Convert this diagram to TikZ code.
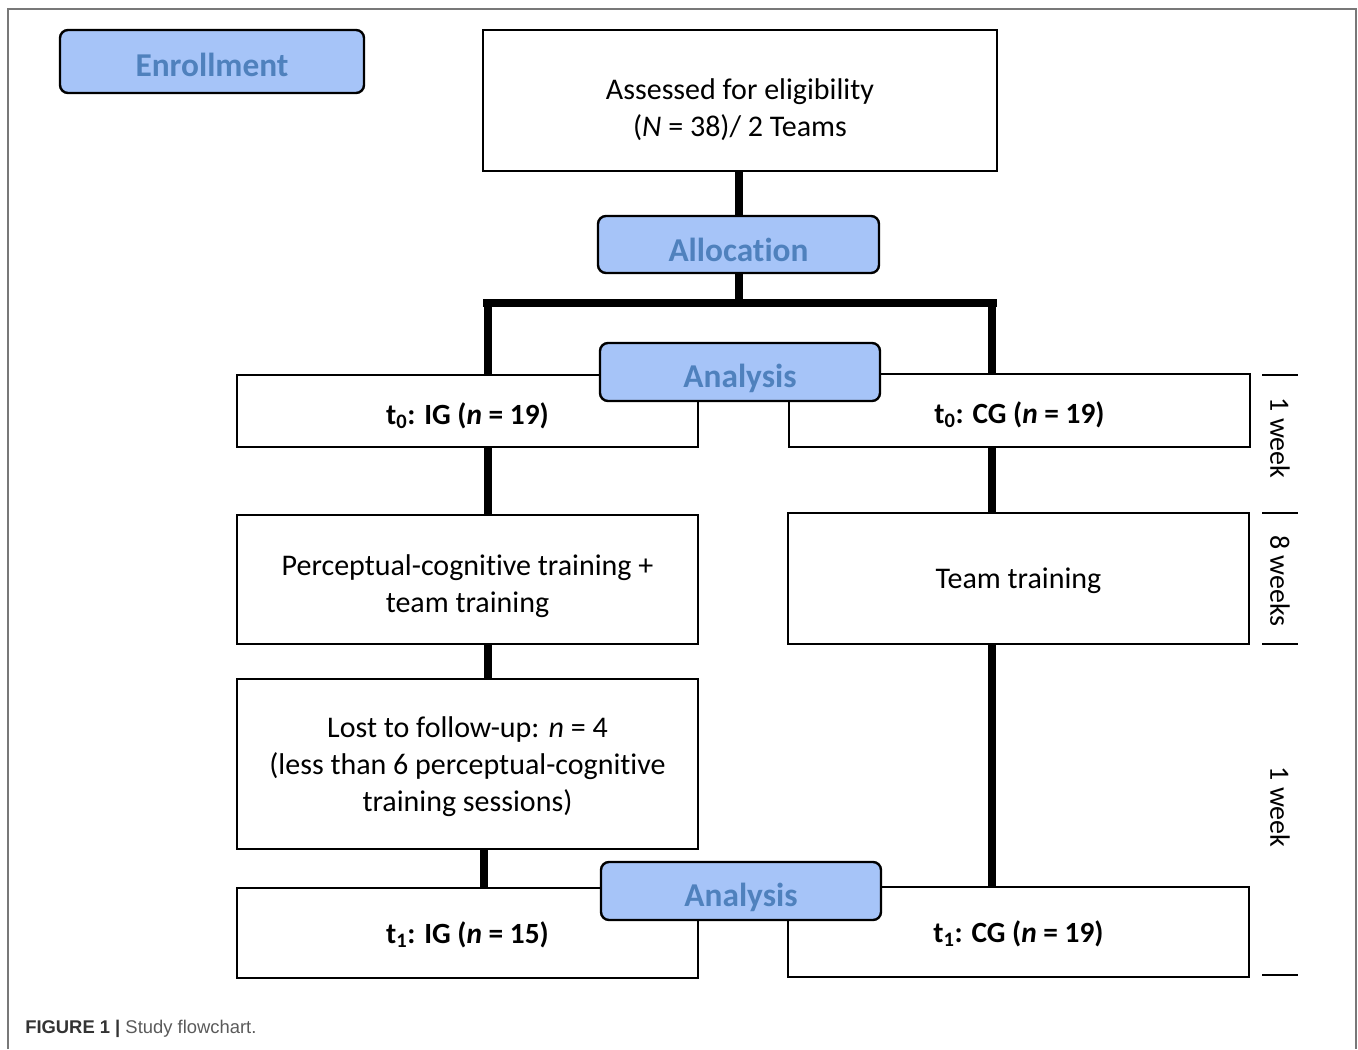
\documentclass[tikz,border=0pt]{standalone}
\usepackage{fontspec}
\setmainfont{Carlito}[Ligatures={NoCommon}]
\newfontfamily\capfont{Liberation Sans}
\definecolor{lblue}{RGB}{166,196,248}
\definecolor{ltext}{RGB}{79,129,189}
\definecolor{framegray}{RGB}{120,120,120}
\definecolor{capgray}{RGB}{90,90,90}
\begin{document}
\begin{tikzpicture}[x=0.75pt,y=-0.75pt,
  box/.style={draw=black, line width=1.5pt, fill=white, inner sep=0pt},
  txt/.style={align=center, inner sep=0pt, font=\fontsize{22.5}{27.75}\selectfont},
  btxt/.style={align=center, inner sep=0pt, font=\fontsize{22}{26}\selectfont\bfseries},
  phase/.style={draw=black, line width=1.8pt, fill=lblue, rounded corners=6pt, inner sep=0pt},
  ptxt/.style={inner sep=0pt, text=ltext, font=\fontsize{25}{30}\selectfont\bfseries},
  conn/.style={line width=5.5pt, black},
  tick/.style={line width=1.5pt, black},
  weeklbl/.style={rotate=-90, font=\fontsize{21}{25}\selectfont}]
\useasboundingbox (0,0) rectangle (1358,1049);
% outer frame
\draw[framegray, line width=1.5pt] (8,1049) -- (8,9) -- (1356,9) -- (1356,1049);

% nodes
\node[phase, minimum width=228pt, minimum height=47.25pt,
  label={[ptxt, name=enr-t, yshift=-2.25pt]center:Enrollment}] (enr) at (212,61.5) {};
\node[box, minimum width=385.5pt, minimum height=105.75pt,
  label={[txt, name=assess-t, yshift=-6.75pt]center:{Assessed for eligibility\\(\textit{N} = 38)/ 2 Teams}}] (assess) at (740,100.5) {};
\node[phase, minimum width=210.75pt, minimum height=42.75pt,
  label={[ptxt, name=alloc-t, yshift=-3.75pt]center:Allocation}] (alloc) at (738.5,244.5) {};

\node[box, minimum width=345.75pt, minimum height=54pt,
  label={[btxt, name=t0ig-t, yshift=-3.75pt]center:{t\textsubscript{0}: IG (\textit{n} = 19)}}] (t0ig) at (467.5,411) {};
\node[box, minimum width=345.75pt, minimum height=54.75pt,
  label={[btxt, name=t0cg-t, yshift=-3pt]center:{t\textsubscript{0}: CG (\textit{n} = 19)}}] (t0cg) at (1019.5,410.5) {};
\node[box, minimum width=345.75pt, minimum height=96.75pt,
  label={[txt, name=pct-t, yshift=-5.25pt]center:{Perceptual-cognitive training +\\team training}}] (pct) at (467.5,579.5) {};
\node[box, minimum width=345.75pt, minimum height=98.25pt,
  label={[txt, name=tt-t, yshift=-1.5pt]center:Team training}] (tt) at (1018.5,578.5) {};
\node[box, minimum width=345.75pt, minimum height=127.5pt,
  label={[txt, name=lost-t, yshift=-2.25pt]center:{Lost to follow-up: \textit{n} = 4\\(less than 6 perceptual-cognitive\\training sessions)}}] (lost) at (467.5,764) {};
\node[box, minimum width=345.75pt, minimum height=67.5pt,
  label={[btxt, name=t1ig-t, yshift=-1.5pt]center:{t\textsubscript{1}: IG (\textit{n} = 15)}}] (t1ig) at (467.5,933) {};
\node[box, minimum width=345.75pt, minimum height=67.5pt,
  label={[btxt, name=t1cg-t, yshift=-1.5pt]center:{t\textsubscript{1}: CG (\textit{n} = 19)}}] (t1cg) at (1018.5,932) {};

% connector coordinates
\coordinate (split) at (739,303);
\coordinate (barL) at (483,303);
\coordinate (barR) at (997,303);
\coordinate (vL) at (488,303);
\coordinate (vR) at (992,303);
\coordinate (vL2) at (484,849);

% connectors
\draw[conn] (assess.south -| split) -- (alloc.north -| split);
\draw[conn] (alloc.south -| split) -- (split);
\draw[conn] (barL) -- (barR);
\draw[conn] ([yshift=2.5pt]vL) -- (vL |- t0ig.north);
\draw[conn] ([yshift=2.5pt]vR) -- (vR |- t0cg.north);
\draw[conn] (vL |- t0ig.south) -- (vL |- pct.north);
\draw[conn] (vL |- pct.south) -- (vL |- lost.north);
\draw[conn] (vL2 |- lost.south) -- (vL2 |- t1ig.north);
\draw[conn] (vR |- t0cg.south) -- (vR |- tt.north);
\draw[conn] (vR |- tt.south) -- (vR |- t1cg.north);

% analysis boxes on top
\node[phase, minimum width=210pt, minimum height=43.5pt,
  label={[ptxt, name=ana1-t, yshift=-4.5pt]center:Analysis}] (ana1) at (740,372) {};
\node[phase, minimum width=210pt, minimum height=43.5pt,
  label={[ptxt, name=ana2-t, yshift=-4.5pt]center:Analysis}] (ana2) at (741,891) {};

% time ticks
\coordinate (k1) at (1262,375);
\coordinate (k2) at (1262,513);
\coordinate (k3) at (1262,644);
\coordinate (k4) at (1262,975);
\draw[tick] (k1) -- ++(36,0);
\draw[tick] (k2) -- ++(36,0);
\draw[tick] (k3) -- ++(36,0);
\draw[tick] (k4) -- ++(36,0);
\node[weeklbl] (w1) at (1280,438) {1 week};
\node[weeklbl] (w2) at (1280,581) {8 weeks};
\node[weeklbl] (w3) at (1280,807) {1 week};

% caption
\node[anchor=west, inner sep=0pt, font=\capfont\fontsize{13.8}{16}\selectfont, text=capgray] (cap) at (25,1029)
  {{\bfseries\color{black!80}FIGURE 1 |} Study flowchart.};
\end{tikzpicture}
\end{document}
